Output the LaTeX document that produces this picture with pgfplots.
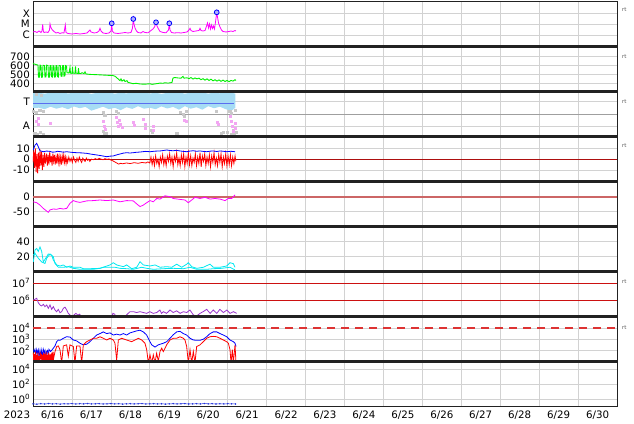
\documentclass[border=0pt]{standalone}
\usepackage{pgfplots}
\pgfplotsset{compat=1.18}
\usepackage{fontspec}
\setmainfont{DejaVu Sans}
\definecolor{gridc}{HTML}{D2D2D2}
\definecolor{framec}{HTML}{222222}
\definecolor{xmag}{HTML}{FF00FF}
\definecolor{swgreen}{HTML}{00F000}
\definecolor{tband}{HTML}{A6DCF4}
\definecolor{tline}{HTML}{5A6EF0}
\definecolor{gdot}{HTML}{C8C8C8}
\definecolor{pdot}{HTML}{F2A6F2}
\definecolor{dstline}{HTML}{CC6666}
\definecolor{kcyan}{HTML}{00E8F0}
\definecolor{epurp}{HTML}{9933CC}
\definecolor{refred}{HTML}{CC1111}
\definecolor{pdash}{HTML}{DD3333}
\definecolor{pblue}{HTML}{2233DD}
\newcommand{\tfont}{\fontsize{10.3}{10.5}\selectfont}
\newcommand{\tsup}[1]{10\raisebox{0.42em}{\fontsize{7.2}{7.5}\selectfont #1}}
\pgfplotsset{
  panel/.style={
    width=584bp, height=45bp, scale only axis, anchor=south west,
    xmin=0, xmax=15,
    xtick={1,2,...,14}, xticklabels={},
    xmajorgrids, ymajorgrids,
    major grid style={draw=gridc, line width=0.7bp},
    axis line style={line width=0.9bp, draw=framec},
    major tick length=0pt,
    yticklabel style={font=\tfont, inner sep=0pt, anchor=east, xshift=-3bp},
    xticklabel style={font=\tfont, inner sep=0pt, anchor=north, yshift=-3.5bp},
    every axis plot/.append style={line width=0.9bp},
  },
  rt/.style={after end axis/.append code={\node[anchor=west, font=\fontsize{5.5}{6}\selectfont, text=black!65, inner sep=0pt, xshift=5bp] at (rel axis cs:1,#1) {rt};}},
  sep/.style={after end axis/.append code={\draw[line width=2.6bp, framec] (rel axis cs:0,1) -- (rel axis cs:1,1);}},
}
\begin{document}
\begin{tikzpicture}
\useasboundingbox (-33bp,-17.3bp) rectangle (601bp,406.7bp);

% Panel 0: X-ray flares
\begin{axis}[panel, at={(0,360bp)}, ymin=-7.08, ymax=-2.93, ytick={-6,-5,-4}, yticklabels={C,M,X}, rt=0.815]
\addplot[xmag, line width=0.8bp] coordinates {(0,-5.723) (0.051,-5.677) (0.103,-5.770) (0.154,-5.631) (0.205,-5.770) (0.231,-5.631) (0.249,-5.014) (0.265,-5.631) (0.283,-5.770) (0.334,-5.723) (0.385,-5.770) (0.424,-5.539) (0.437,-4.986) (0.455,-5.263) (0.488,-5.493) (0.539,-5.677) (0.591,-5.816) (0.642,-5.770) (0.694,-5.862) (0.745,-5.797) (0.796,-5.816) (0.830,-5.078) (0.848,-5.770) (0.899,-5.862) (1.002,-5.908) (1.105,-5.862) (1.207,-5.908) (1.310,-5.862) (1.387,-5.816) (1.438,-5.631) (1.464,-5.539) (1.490,-5.723) (1.567,-5.816) (1.644,-5.770) (1.695,-5.631) (1.721,-5.382) (1.747,-5.631) (1.798,-5.816) (1.875,-5.862) (1.952,-5.816) (2.004,-5.631) (2.022,-4.922) (2.037,-5.631) (2.081,-5.816) (2.183,-5.862) (2.286,-5.816) (2.363,-5.770) (2.440,-5.816) (2.517,-5.770) (2.556,-5.355) (2.576,-4.525) (2.594,-4.986) (2.620,-5.355) (2.659,-5.631) (2.697,-5.770) (2.774,-5.816) (2.826,-5.677) (2.877,-5.770) (2.954,-5.797) (3.031,-5.585) (3.082,-5.447) (3.121,-5.263) (3.160,-4.829) (3.185,-5.170) (3.224,-5.447) (3.262,-5.677) (3.339,-5.770) (3.416,-5.797) (3.481,-5.539) (3.501,-4.922) (3.519,-5.539) (3.558,-5.770) (3.622,-5.816) (3.725,-5.788) (3.802,-5.816) (3.879,-5.770) (3.956,-5.723) (4.007,-5.539) (4.033,-5.382) (4.059,-5.585) (4.110,-5.677) (4.187,-5.631) (4.264,-5.585) (4.290,-5.382) (4.315,-5.585) (4.367,-5.631) (4.418,-5.585) (4.457,-5.170) (4.482,-4.894) (4.508,-5.355) (4.534,-4.986) (4.559,-5.447) (4.585,-5.078) (4.611,-5.401) (4.637,-5.170) (4.662,-5.447) (4.688,-4.802) (4.719,-3.908) (4.739,-4.341) (4.765,-4.894) (4.803,-5.263) (4.842,-5.539) (4.881,-5.677) (4.958,-5.723) (5.035,-5.677) (5.086,-5.631) (5.137,-5.677) (5.189,-5.585) (5.214,-5.631)};
\addplot[only marks, color=blue, mark=*, mark size=2.4bp, mark options={draw=blue, fill=blue!30!white, line width=0.8bp}] coordinates {(2.022,-4.922) (2.576,-4.525) (3.160,-4.829) (3.501,-4.922) (4.719,-3.908)};
\end{axis}

% Panel 1: solar wind speed
\begin{axis}[panel, sep, at={(0,315bp)}, ymin=305, ymax=813, ytick={400,500,600,700}, yticklabels={400,500,600,700}, rt=0.78]
\addplot[swgreen, line width=0.9bp] coordinates {(0,625) (0.026,618) (0.077,612) (0.128,605) (0.141,470) (0.167,470) (0.180,605) (0.205,600) (0.218,468) (0.244,470) (0.257,603) (0.295,600) (0.308,470) (0.334,472) (0.347,605) (0.385,600) (0.398,470) (0.424,470) (0.437,598) (0.462,600) (0.475,475) (0.501,470) (0.514,600) (0.539,595) (0.552,470) (0.578,472) (0.591,600) (0.616,598) (0.629,475) (0.655,470) (0.668,600) (0.706,598) (0.719,480) (0.745,478) (0.758,598) (0.783,600) (0.796,480) (0.822,485) (0.835,600) (0.861,595) (0.873,520) (0.925,515) (0.950,580) (0.963,515) (1.002,512) (1.015,585) (1.027,515) (1.079,512) (1.092,590) (1.105,515) (1.156,510) (1.169,570) (1.182,512) (1.233,510) (1.259,520) (1.310,508) (1.336,530) (1.361,505) (1.464,500) (1.593,498) (1.721,495) (1.849,492) (1.927,490) (1.978,488) (2.029,490) (2.106,480) (2.158,460) (2.209,440) (2.235,430) (2.260,450) (2.286,425) (2.337,440) (2.363,420) (2.415,430) (2.440,410) (2.492,405) (2.569,395) (2.646,400) (2.749,392) (2.877,390) (3.005,395) (3.057,388) (3.134,393) (3.211,398) (3.262,402) (3.339,400) (3.391,406) (3.468,402) (3.519,405) (3.570,410) (3.596,460) (3.647,465) (3.725,460) (3.802,458) (3.853,478) (3.879,458) (3.956,462) (4.007,452) (4.059,465) (4.110,448) (4.161,460) (4.213,450) (4.264,458) (4.315,440) (4.367,452) (4.418,435) (4.470,450) (4.521,432) (4.572,446) (4.624,428) (4.675,440) (4.727,425) (4.778,438) (4.829,422) (4.881,436) (4.932,420) (4.984,432) (5.035,418) (5.086,432) (5.137,425) (5.189,440) (5.214,432)};
\end{axis}

% Panel 2: T / A
\begin{axis}[panel, sep, at={(0,270bp)}, ymin=0, ymax=45, ytick={10.7,35.3}, yticklabels={A,T}, rt=0.78]
\addplot[gray!75, line width=0.8bp] coordinates {(0,22.4) (15,22.4)};
\addplot[fill=tband, draw=none] coordinates {(0,43.5) (0.15,44) (0.3,43) (0.45,44.2) (0.6,43.8) (0.75,44.5) (0.9,43.2) (1.05,44) (1.2,43.5) (1.35,44.3) (1.5,42.8) (1.65,44) (1.8,43.6) (1.95,44.4) (2.1,43) (2.25,44) (2.4,43.3) (2.55,44.2) (2.7,43.7) (2.85,44.5) (3.0,43.2) (3.15,44) (3.3,42.8) (3.45,43.9) (3.6,43.5) (3.75,44.3) (3.9,43) (4.05,44) (4.2,43.6) (4.35,44.2) (4.5,43.1) (4.65,44) (4.8,43.4) (4.95,44.5) (5.1,44) (5.2,43) (5.2,29) (5.1,26) (4.95,27.5) (4.8,30) (4.65,28.5) (4.5,30.5) (4.35,27) (4.2,29.5) (4.05,28) (3.9,30.5) (3.75,27) (3.6,29.8) (3.45,28.2) (3.3,30.3) (3.15,27.5) (3.0,29) (2.85,28) (2.7,30.5) (2.55,27.8) (2.4,29.5) (2.25,26.5) (2.1,29) (1.95,27.5) (1.8,30) (1.65,28) (1.5,26) (1.35,29.8) (1.2,28.5) (1.05,30.2) (0.9,27.5) (0.75,29.5) (0.6,28) (0.45,30) (0.3,27.5) (0.15,29) (0,28.5)} -- cycle;
\addplot[only marks, color=gdot, mark=square*, mark size=1.1bp, mark options={draw=gdot, fill=gdot, line width=0pt}] coordinates {(0.02,25) (0.1,24.5) (0.18,26) (0.26,25) (0.05,3) (0.12,2.5) (0.2,4) (0.26,2.5) (0.09,42) (0.22,41.5) (1.81,24) (1.85,21) (1.81,5) (1.88,3) (1.85,2) (2.15,25) (2.2,23) (3.05,6) (3.07,4) (3.7,3) (3.78,24) (3.86,22) (3.9,20) (3.95,25) (4.72,25) (4.85,3) (4.89,4.5) (5.06,25) (5.1,23) (5.15,6) (5.18,3) (5.1,2.5) (5.22,4) (5.2,26) (5.0,4)};
\addplot[only marks, color=pdot, mark=square*, mark size=1.0bp, mark options={draw=pdot, fill=pdot, line width=0pt}] coordinates {(0.1,15) (0.13,12) (0.15,18) (0.44,13.5) (1.81,15) (1.84,10) (1.86,7) (2.15,19) (2.18,14) (2.2,10) (2.25,12) (2.3,9) (2.22,16) (2.58,14) (2.6,11) (2.85,17) (2.88,12) (2.9,8) (3.09,10) (3.1,6) (3.9,16) (3.95,15) (4.74,14) (4.76,12) (5.06,20) (5.1,15) (5.13,10) (5.16,5) (5.19,13) (5.2,8)};
\addplot[tline, line width=1bp] coordinates {(0,33.4) (5.15,33.4)};
\end{axis}

% Panel 3: IMF Bz / Bt
\begin{axis}[panel, sep, at={(0,225bp)}, ymin=-20.75, ymax=20.75, ytick={-10,0,10}, yticklabels={-10,0,10}, rt=0.8]
\addplot[refred!85!black, line width=0.7bp] coordinates {(0,0) (15,0)};
\addplot[red, line width=0.8bp] coordinates {(0,-3) (0.02,8) (0.04,-8) (0.06,10) (0.08,-12) (0.1,5) (0.12,-13) (0.14,6) (0.16,-9) (0.18,9) (0.2,-6) (0.22,7) (0.24,-10) (0.26,4) (0.28,-7) (0.3,6) (0.32,-4) (0.35,5) (0.37,-6) (0.39,4) (0.41,-5) (0.43,7) (0.45,-3) (0.47,3) (0.49,-6) (0.51,5) (0.53,-2) (0.55,4) (0.57,-5) (0.59,2) (0.61,-4) (0.63,5) (0.65,-3) (0.67,3) (0.69,-4) (0.71,2) (0.73,-5) (0.75,3) (0.77,-2) (0.79,4) (0.81,-3) (0.83,2) (0.85,-4) (0.87,1) (0.89,-3) (0.92,2) (0.95,-2) (0.98,1) (1.01,-3) (1.04,2) (1.07,-1) (1.1,-3) (1.13,1) (1.16,-2) (1.19,2) (1.22,-1) (1.25,-3) (1.28,1) (1.31,-1) (1.34,-2) (1.37,1) (1.4,-1) (1.43,0) (1.46,-2) (1.5,0) (1.55,-0.5) (1.6,0.5) (1.65,-0.3) (1.7,0.8) (1.75,0) (1.8,-0.5) (1.85,0.5) (1.9,-0.2) (1.95,0.3) (2.0,-0.8) (2.05,-1.5) (2.1,-2.5) (2.15,-3.5) (2.2,-4.5) (2.25,-3.8) (2.3,-4.2) (2.4,-3.5) (2.5,-4) (2.6,-3.2) (2.7,-3.8) (2.8,-3) (2.9,-3.5) (2.95,-2.5) (3.0,-3.5) (3.03,2) (3.06,-5) (3.09,1) (3.12,-6) (3.15,3) (3.18,-4) (3.21,0) (3.24,-7) (3.27,2) (3.3,-3) (3.33,4) (3.36,-5) (3.39,1) (3.42,-6) (3.45,3) (3.48,-2) (3.51,5) (3.54,-4) (3.57,2) (3.6,-7) (3.63,3) (3.66,-2) (3.69,6) (3.72,-5) (3.75,1) (3.78,-6) (3.81,4) (3.84,-3) (3.87,5) (3.9,-7) (3.93,2) (3.96,-4) (3.99,6) (4.02,-5) (4.05,3) (4.08,-6) (4.11,1) (4.14,-3) (4.17,5) (4.2,-6) (4.23,2) (4.26,-4) (4.29,6) (4.32,-7) (4.35,3) (4.38,-2) (4.41,5) (4.44,-6) (4.47,2) (4.5,-4) (4.53,4) (4.56,-7) (4.59,3) (4.62,-3) (4.65,6) (4.68,-5) (4.71,1) (4.74,-6) (4.77,4) (4.8,-3) (4.83,5) (4.86,-7) (4.89,2) (4.92,-4) (4.95,5) (4.98,-6) (5.01,3) (5.04,-5) (5.07,4) (5.1,-6) (5.13,2) (5.16,-4) (5.19,3) (5.21,-2)};
\addplot[blue, line width=0.8bp] coordinates {(0.008,8.5) (0.051,13) (0.095,14.6) (0.136,11.5) (0.18,7.8) (0.265,6.9) (0.35,7.5) (0.437,7.2) (0.5,6.5) (0.565,6.6) (0.63,7.3) (0.694,7.0) (0.78,6.5) (0.866,6.9) (1.0,6.3) (1.123,6) (1.25,5.8) (1.379,5.4) (1.5,4.6) (1.636,3.9) (1.76,3.2) (1.893,2.3) (1.98,2.8) (2.063,3) (2.15,4) (2.235,4.8) (2.32,5.6) (2.407,6) (2.49,5.7) (2.576,6) (2.66,6.4) (2.749,6.6) (2.88,7.2) (3.005,6.9) (3.13,7.4) (3.262,7.6) (3.35,8) (3.434,8.5) (3.52,8.0) (3.604,7.8) (3.69,8.2) (3.776,7.6) (3.86,7.2) (3.948,6.9) (4.03,7.5) (4.118,7.8) (4.2,7.3) (4.29,7.6) (4.37,7.2) (4.462,6.9) (4.55,7.4) (4.632,7.6) (4.72,7.1) (4.804,7.6) (4.89,7.3) (4.976,6.9) (5.08,7.3) (5.189,6.9)};
\end{axis}

% Panel 4: Dst
\begin{axis}[panel, sep, at={(0,180bp)}, ymin=-100, ymax=50, ytick={-50,0}, yticklabels={-50,0}]
\addplot[dstline, line width=1.8bp] coordinates {(0,0) (15,0)};
\addplot[xmag, line width=0.8bp] coordinates {(0.008,-17) (0.095,-20) (0.18,-28) (0.265,-39) (0.352,-48) (0.393,-52) (0.437,-44) (0.521,-41) (0.609,-42) (0.694,-39) (0.778,-41) (0.866,-39) (0.95,-22) (1.035,-13) (1.123,-17) (1.207,-19) (1.379,-14) (1.549,-13) (1.721,-11) (1.893,-13) (2.063,-11) (2.235,-17) (2.407,-13) (2.576,-14) (2.664,-24) (2.749,-33) (2.833,-28) (2.921,-20) (3.005,-13) (3.09,-17) (3.178,-6) (3.262,-8) (3.391,3) (3.519,0) (3.604,-6) (3.776,-9) (3.904,-11) (3.989,-20) (4.077,-11) (4.161,-2) (4.29,-6) (4.418,-2) (4.547,-8) (4.675,-6) (4.804,-8) (4.932,-13) (5.017,-6) (5.104,-6) (5.189,6)};
\end{axis}

% Panel 5: density
\begin{axis}[panel, sep, at={(0,135bp)}, ymin=0, ymax=60, ytick={20,40}, yticklabels={20,40}]
\addplot[kcyan, line width=0.8bp] coordinates {(0.008,13) (0.051,29) (0.095,31) (0.136,27) (0.18,33) (0.223,27) (0.265,13) (0.352,20) (0.393,23.6) (0.48,22) (0.521,15.6) (0.609,9) (0.694,7.6) (0.778,9) (0.866,5.9) (0.95,7.6) (1.035,5.9) (1.207,5.9) (1.292,4) (1.464,4) (1.721,4.5) (1.849,6.7) (1.978,9) (2.063,12) (2.15,9) (2.32,6.7) (2.407,9) (2.535,4) (2.664,5.9) (2.749,13.3) (2.833,9) (3.005,7.6) (3.134,9) (3.262,5.9) (3.434,6.7) (3.563,5.9) (3.691,10) (3.82,5.9) (3.948,10) (3.989,12) (4.077,6.7) (4.205,4.5) (4.375,5.9) (4.503,9) (4.547,10) (4.632,5.9) (4.804,5.9) (4.976,7.6) (5.06,12) (5.145,10.7) (5.189,5.9)};
\addplot[kcyan, line width=0.8bp] coordinates {(0.008,22) (0.051,24.5) (0.136,18) (0.223,13) (0.308,11) (0.352,18) (0.437,23.6) (0.521,20) (0.565,11) (0.651,5.9) (0.778,5.9) (0.907,6.7) (1.035,4.5) (1.207,3.2) (1.378,3.2) (1.55,3.2) (1.721,4.5) (1.807,5.9) (1.935,5.9) (2.106,5.9) (2.235,4.5) (2.407,4) (2.577,3.2) (2.791,5.9) (2.92,4.5) (3.09,3.2) (3.348,4) (3.604,4.5) (3.862,4) (4.033,5.9) (4.205,3.2) (4.461,3.2) (4.632,4) (4.846,4.5) (5.06,5.9) (5.189,2.3)};
\end{axis}

% Panel 6: electron flux (log10)
\begin{axis}[panel, sep, at={(0,90bp)}, ymin=5.0, ymax=7.69, ytick={6,7}, yticklabels={\tsup{6},\tsup{7}}, rt=0.77]
\addplot[refred, line width=0.9bp] coordinates {(0,6) (15,6)};
\addplot[refred, line width=0.9bp] coordinates {(0,7) (15,7)};
\addplot[epurp, line width=0.8bp] coordinates {(0.008,6.0) (0.051,6.04) (0.095,6.1) (0.136,5.84) (0.18,5.7) (0.223,5.64) (0.265,5.74) (0.308,5.6) (0.352,5.7) (0.393,5.5) (0.437,5.7) (0.48,5.44) (0.521,5.6) (0.565,5.4) (0.609,5.3) (0.651,5.44) (0.694,5.24) (0.736,5.3) (0.778,5.5) (0.822,5.57) (0.866,5.4) (0.907,5.2) (0.95,5.1) (0.993,5.02) (1.01,4.95)};
\addplot[epurp, line width=0.8bp] coordinates {(1.03,4.95) (1.05,5.1) (1.1,5.2) (1.15,5.1) (1.2,5.15) (1.25,4.95)};
\addplot[epurp, line width=0.8bp] coordinates {(2.03,4.95) (2.05,5.2) (2.1,5.15) (2.13,4.95)};
\addplot[epurp, line width=0.8bp] coordinates {(2.38,4.95) (2.4,5.1) (2.49,5.3) (2.58,5.3) (2.66,5.25) (2.75,5.3) (2.83,5.25) (2.92,5.2) (3.0,5.3) (3.09,5.2) (3.18,5.25) (3.26,5.4) (3.3,5.2) (3.35,5.3) (3.43,5.2) (3.52,5.4) (3.6,5.25) (3.69,5.35) (3.78,5.2) (3.86,5.3) (3.95,5.25) (4.03,5.4) (4.12,5.1) (4.2,5.04) (4.29,5.2) (4.37,5.3) (4.46,5.44) (4.55,5.2) (4.63,5.4) (4.72,5.2) (4.8,5.44) (4.89,5.25) (4.98,5.4) (5.06,5.2) (5.15,5.3) (5.23,5.2)};
\end{axis}

% Panel 7: proton flux (log10)
\begin{axis}[panel, sep, at={(0,45bp)}, ymin=1, ymax=5, ytick={2,3,4}, yticklabels={\tsup{2},\tsup{3},\tsup{4}}, rt=0.755]
\addplot[pdash, line width=1.1bp, dash pattern=on 8bp off 6bp] coordinates {(0,4) (15,4)};
\addplot[blue, line width=0.8bp] coordinates {(0.008,2.06) (0.03,1.9) (0.051,2.1) (0.07,1.6) (0.095,2.06) (0.11,1.75) (0.136,2.05) (0.155,1.4) (0.18,2.0) (0.2,1.5) (0.223,2.0) (0.245,1.2) (0.265,2.1) (0.29,1.8) (0.308,2.0) (0.33,1.3) (0.35,1.9) (0.37,2.0) (0.393,1.5) (0.41,2.1) (0.45,1.9) (0.5,2.1) (0.565,2.4) (0.608,2.78) (0.651,2.93) (0.694,2.9) (0.779,3.08) (0.864,3.22) (0.95,3.19) (1.036,2.93) (1.121,2.85) (1.207,2.64) (1.293,2.5) (1.378,2.55) (1.464,2.78) (1.55,3.08) (1.635,3.37) (1.721,3.5) (1.807,3.65) (1.892,3.5) (1.978,3.56) (2.063,3.37) (2.149,3.45) (2.235,3.37) (2.32,3.5) (2.406,3.37) (2.492,3.56) (2.577,3.65) (2.663,3.74) (2.749,3.8) (2.834,3.65) (2.92,3.37) (3.005,2.78) (3.048,2.5) (3.134,2.3) (3.219,2.5) (3.347,2.64) (3.433,2.78) (3.519,3.08) (3.604,3.4) (3.69,3.65) (3.776,3.7) (3.861,3.5) (3.947,3.37) (4.033,3.08) (4.118,2.93) (4.204,2.9) (4.29,2.9) (4.375,3.0) (4.461,3.22) (4.547,3.5) (4.632,3.65) (4.718,3.65) (4.803,3.5) (4.889,3.37) (4.975,3.22) (5.06,2.93) (5.146,2.78) (5.189,2.64) (5.214,2.35)};
\addplot[red, line width=0.8bp] coordinates {(0.008,1.8) (0.02,0.9) (0.035,1.7) (0.05,0.9) (0.065,1.9) (0.08,1.1) (0.095,1.6) (0.11,0.9) (0.125,1.8) (0.14,0.9) (0.155,1.5) (0.17,0.9) (0.185,1.9) (0.2,1.2) (0.215,1.7) (0.23,0.9) (0.245,1.6) (0.26,0.9) (0.275,1.8) (0.29,1.1) (0.305,1.7) (0.32,0.9) (0.335,1.9) (0.35,0.9) (0.365,1.6) (0.38,0.9) (0.395,1.8) (0.41,1.2) (0.425,1.5) (0.44,0.9) (0.455,1.7) (0.47,0.9) (0.485,1.8) (0.5,0.9) (0.515,1.9) (0.53,1.3) (0.565,1.9) (0.608,2.35) (0.651,2.4) (0.694,2.06) (0.736,0.9) (0.779,2.4) (0.864,2.5) (0.907,1.5) (0.95,2.5) (1.036,2.35) (1.078,0.9) (1.121,2.4) (1.207,2.4) (1.25,0.9) (1.293,2.5) (1.378,2.78) (1.464,2.93) (1.55,3.08) (1.635,3.08) (1.721,3.22) (1.807,3.08) (1.892,2.93) (1.978,3.08) (2.063,2.93) (2.106,2.64) (2.149,1.15) (2.192,2.93) (2.278,3.08) (2.406,2.93) (2.535,2.78) (2.62,2.93) (2.706,3.08) (2.791,2.93) (2.877,2.64) (2.92,2.06) (2.963,0.9) (3.005,1.6) (3.048,0.9) (3.09,1.6) (3.134,0.9) (3.176,1.75) (3.219,1.05) (3.262,1.9) (3.305,2.2) (3.347,1.9) (3.433,2.5) (3.519,2.93) (3.604,3.08) (3.69,3.08) (3.776,3.22) (3.861,3.08) (3.904,2.93) (3.947,2.35) (3.99,0.9) (4.033,2.06) (4.075,0.9) (4.118,1.9) (4.16,0.9) (4.204,2.35) (4.29,2.5) (4.375,2.78) (4.461,3.08) (4.547,3.22) (4.632,3.25) (4.718,3.22) (4.803,3.08) (4.889,2.93) (4.975,2.78) (5.018,2.64) (5.06,2.06) (5.086,0.9) (5.12,2.06) (5.146,0.9) (5.189,2.5) (5.214,0.9)};
\end{axis}

% Panel 8: bottom
\begin{axis}[panel, sep, at={(0,0)}, ymin=-1, ymax=5, ytick={0,2,4}, yticklabels={\tsup{0},\tsup{2},\tsup{4}},
  extra x ticks={0.5,1.5,...,14.5},
  extra x tick labels={6/16,6/17,6/18,6/19,6/20,6/21,6/22,6/23,6/24,6/25,6/26,6/27,6/28,6/29,6/30},
  extra x tick style={grid=none},
  after end axis/.append code={\node[anchor=north, font=\tfont, inner sep=0pt, xshift=-16bp, yshift=-3.5bp] at (rel axis cs:0,0) {2023};}]
\addplot[pblue, line width=0.5bp, mark=*, mark size=0.45bp] coordinates {(0.0,-0.62) (0.1,-0.66) (0.2,-0.60) (0.3,-0.64) (0.4,-0.58) (0.5,-0.63) (0.6,-0.60) (0.7,-0.65) (0.8,-0.61) (0.9,-0.62) (1.0,-0.59) (1.1,-0.64) (1.2,-0.60) (1.3,-0.62) (1.4,-0.58) (1.5,-0.63) (1.6,-0.61) (1.7,-0.60) (1.8,-0.64) (1.9,-0.62) (2.0,-0.59) (2.1,-0.63) (2.2,-0.60) (2.3,-0.65) (2.4,-0.62) (2.5,-0.60) (2.6,-0.63) (2.7,-0.61) (2.8,-0.59) (2.9,-0.64) (3.0,-0.62) (3.1,-0.60) (3.2,-0.63) (3.3,-0.61) (3.4,-0.65) (3.5,-0.62) (3.6,-0.60) (3.7,-0.63) (3.8,-0.61) (3.9,-0.59) (4.0,-0.64) (4.1,-0.62) (4.2,-0.60) (4.3,-0.63) (4.4,-0.58) (4.5,-0.62) (4.6,-0.60) (4.7,-0.64) (4.8,-0.61) (4.9,-0.63) (5.0,-0.60) (5.1,-0.62) (5.2,-0.64)};
\end{axis}
\end{tikzpicture}
\end{document}
